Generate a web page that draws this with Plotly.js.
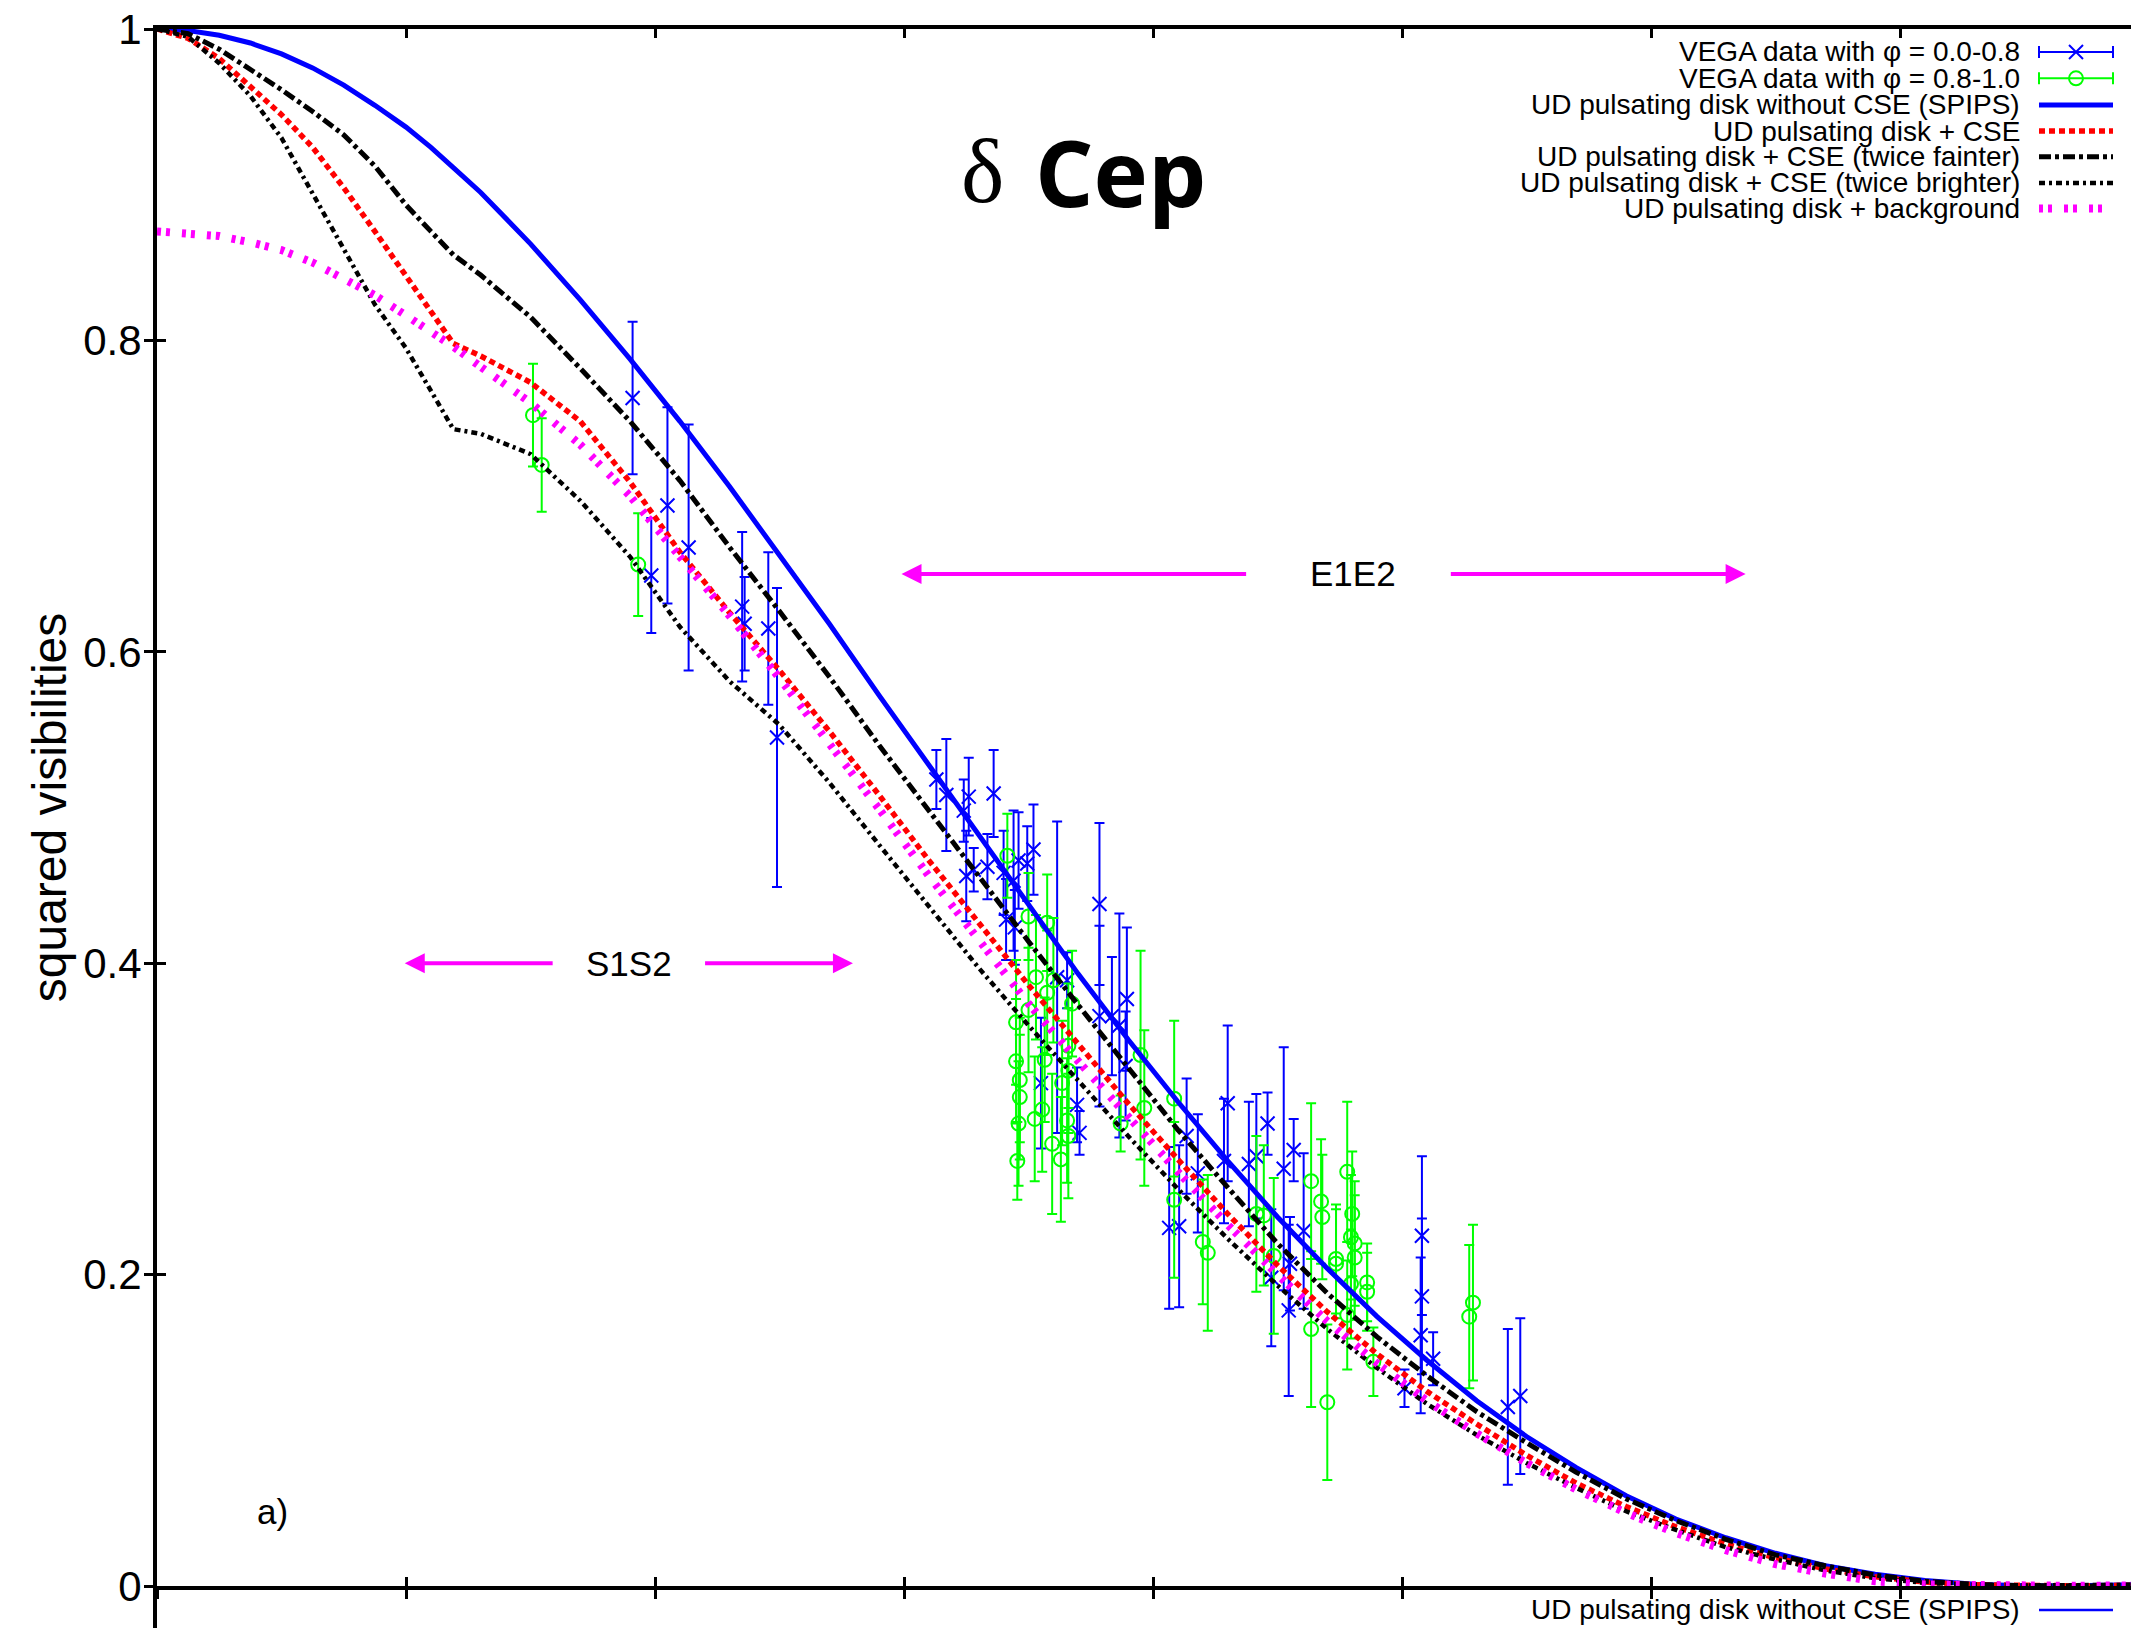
<!DOCTYPE html>
<html><head><meta charset="utf-8">
<script src="https://cdn.plot.ly/plotly-3.0.1.min.js"></script>
<style>html,body{margin:0;padding:0;background:#fff;}#chart{width:2131px;height:1628px;}</style>
</head><body><div id="chart"></div>
<script>
// ---------------- data ----------------
const modelX = [0, 2.5, 5, 7.5, 10, 12.5, 15, 17.5, 20, 22, 23.8, 26, 30, 34, 38, 42, 46, 50, 54, 58, 62, 66, 70, 74, 78, 82, 86, 90, 94, 98, 102, 106, 110, 114, 118, 122, 126, 130, 134, 138, 142, 146, 150, 154, 158.6];
const udNoCSE = [1.000, 0.999, 0.996, 0.991, 0.984, 0.975, 0.964, 0.951, 0.937, 0.924, 0.911, 0.895, 0.862, 0.826, 0.788, 0.748, 0.706, 0.662, 0.618, 0.572, 0.527, 0.482, 0.437, 0.393, 0.351, 0.311, 0.273, 0.237, 0.204, 0.173, 0.145, 0.119, 0.096, 0.076, 0.058, 0.043, 0.031, 0.021, 0.013, 0.0075, 0.0035, 0.0012, 0.0002, 0.0001, 0.0008];
const udCSE = [1.000, 0.994, 0.981, 0.963, 0.945, 0.924, 0.898, 0.870, 0.841, 0.819, 0.798, 0.790, 0.773, 0.748, 0.709, 0.664, 0.625, 0.588, 0.549, 0.508, 0.466, 0.426, 0.386, 0.348, 0.310, 0.274, 0.239, 0.206, 0.176, 0.149, 0.125, 0.104, 0.084, 0.066, 0.051, 0.038, 0.027, 0.018, 0.011, 0.006, 0.0025, 0.0008, 0.0002, 0.0001, 0.0005];
const udCSEFainter = [1.000, 0.997, 0.987, 0.974, 0.961, 0.947, 0.932, 0.912, 0.887, 0.870, 0.855, 0.842, 0.815, 0.782, 0.748, 0.710, 0.667, 0.626, 0.584, 0.540, 0.498, 0.455, 0.414, 0.373, 0.333, 0.293, 0.256, 0.220, 0.188, 0.160, 0.135, 0.112, 0.092, 0.073, 0.056, 0.042, 0.030, 0.020, 0.013, 0.007, 0.003, 0.001, 0.0002, 0.0001, 0.0006];
const udCSEBrighter = [1.000, 0.995, 0.978, 0.957, 0.930, 0.894, 0.859, 0.823, 0.795, 0.767, 0.743, 0.740, 0.727, 0.697, 0.661, 0.616, 0.581, 0.553, 0.516, 0.476, 0.436, 0.397, 0.360, 0.324, 0.289, 0.255, 0.223, 0.193, 0.165, 0.140, 0.117, 0.097, 0.079, 0.063, 0.048, 0.036, 0.025, 0.017, 0.010, 0.005, 0.002, 0.0007, 0.0002, 0.0001, 0.0004];
const udBackground = [0.870, 0.869, 0.867, 0.863, 0.858, 0.850, 0.840, 0.829, 0.816, 0.806, 0.796, 0.783, 0.760, 0.733, 0.700, 0.661, 0.623, 0.583, 0.542, 0.499, 0.456, 0.414, 0.374, 0.337, 0.301, 0.266, 0.232, 0.200, 0.170, 0.143, 0.119, 0.098, 0.079, 0.062, 0.047, 0.034, 0.023, 0.014, 0.008, 0.003, 0.001, 0.0003, 0.0001, 0.0001, 0.0004];

// VEGA data, phase 0.0-0.8
const vegaAx = [38.2, 39.7, 41.0, 42.7, 47.0, 47.2, 49.1, 49.8,
  62.6, 63.4, 64.8, 65.2, 67.2, 65.0, 65.6, 66.7, 68.0, 68.8, 69.2, 69.9, 70.4, 68.2, 68.9, 75.7, 75.7, 76.7, 77.3, 77.9, 77.8, 73.9, 74.1, 72.3, 73.1, 71.0,
  81.3, 82.1, 82.7, 83.6, 86.0, 85.7, 87.7, 88.3, 89.2, 90.5, 91.3, 89.5, 90.9, 92.1, 91.0, 100.2,
  101.6, 101.6, 101.5, 102.5, 108.5, 109.5];
const vegaAy = [0.763, 0.649, 0.694, 0.667, 0.629, 0.618, 0.615, 0.545,
  0.518, 0.508, 0.498, 0.507, 0.509, 0.456, 0.460, 0.462, 0.458, 0.453, 0.466, 0.464, 0.473, 0.428, 0.423, 0.438, 0.366, 0.366, 0.360, 0.377, 0.334, 0.309, 0.291, 0.391, 0.389, 0.323,
  0.230, 0.231, 0.289, 0.265, 0.310, 0.273, 0.271, 0.276, 0.297, 0.268, 0.280, 0.198, 0.177, 0.228, 0.207, 0.127,
  0.225, 0.186, 0.161, 0.146, 0.115, 0.122];
const vegaAerr = [0.049, 0.037, 0.063, 0.079, 0.048, 0.030, 0.049, 0.096,
  0.019, 0.036, 0.020, 0.025, 0.028, 0.029, 0.014, 0.021, 0.027, 0.045, 0.031, 0.024, 0.029, 0.026, 0.024, 0.052, 0.058, 0.038, 0.072, 0.046, 0.035, 0.024, 0.014, 0.100, 0.018, 0.042,
  0.052, 0.052, 0.037, 0.038, 0.050, 0.040, 0.040, 0.040, 0.020, 0.078, 0.020, 0.044, 0.055, 0.050, 0.030, 0.012,
  0.051, 0.050, 0.050, 0.017, 0.050, 0.050];

// VEGA data, phase 0.8-1.0
const vegaBx = [30.2, 30.9, 38.65,
  68.3, 70.0, 71.5, 69.0, 69.0, 69.3, 69.3, 69.2, 69.1, 70.0, 70.6, 70.5, 71.1, 71.3, 71.5, 72.0, 71.9, 72.6, 72.7, 73.1, 73.2, 73.2, 73.5, 73.2, 77.4, 79.0, 79.3,
  81.7, 81.7, 84.0, 84.4, 88.3, 88.9, 89.7, 92.7, 92.7, 93.5, 93.6, 94.0, 94.7, 94.7, 95.6, 96.0, 95.9, 96.2, 96.2, 95.9, 95.6, 97.2, 97.2, 97.7,
  105.4, 105.7];
const vegaBy = [0.752, 0.720, 0.656,
  0.469, 0.430, 0.426, 0.362, 0.337, 0.325, 0.314, 0.297, 0.273, 0.370, 0.391, 0.300, 0.306, 0.338, 0.381, 0.389, 0.284, 0.274, 0.323, 0.299, 0.289, 0.331, 0.374, 0.347, 0.297, 0.341, 0.307,
  0.313, 0.248, 0.221, 0.214, 0.239, 0.238, 0.212, 0.260, 0.165, 0.247, 0.237, 0.118, 0.210, 0.207, 0.266, 0.239, 0.224, 0.220, 0.211, 0.194, 0.174, 0.195, 0.189, 0.144,
  0.173, 0.182];
const vegaBerr = [0.033, 0.030, 0.033,
  0.027, 0.028, 0.031, 0.040, 0.040, 0.040, 0.040, 0.040, 0.025, 0.040, 0.040, 0.040, 0.040, 0.040, 0.040, 0.040, 0.045, 0.040, 0.040, 0.040, 0.040, 0.040, 0.034, 0.040, 0.018, 0.067, 0.050,
  0.050, 0.050, 0.040, 0.050, 0.050, 0.045, 0.050, 0.050, 0.050, 0.040, 0.040, 0.050, 0.035, 0.035, 0.045, 0.040, 0.040, 0.040, 0.040, 0.035, 0.035, 0.025, 0.025, 0.022,
  0.046, 0.050];

const legendLabels = [
  'VEGA data with \u03c6 = 0.0-0.8',
  'VEGA data with \u03c6 = 0.8-1.0',
  'UD pulsating disk without CSE (SPIPS)',
  'UD pulsating disk + CSE',
  'UD pulsating disk + CSE (twice fainter)',
  'UD pulsating disk + CSE (twice brighter)',
  'UD pulsating disk + background'
];
const bottomLegendLabel = 'UD pulsating disk without CSE (SPIPS)';
const yTickVals = [0, 0.2, 0.4, 0.6, 0.8, 1];
const yTickText = ['0', '0.2', '0.4', '0.6', '0.8', '1'];

// ---------------- geometry / styles ----------------
const W = 2131, H = 1628, ML = 157, MT = 29, MB = 42;
const PW = W - ML, PH = H - MT - MB;
const XMAX = PW / 249 * 20;
const px = v => (v - ML) / PW;
const py = v => (H - MB - v) / PH;
const FONT = 'Liberation Sans, Arial, sans-serif';
const BLUE = '#0000ff', GREEN = '#00ff00', RED = '#ff0000', MAG = '#ff00ff';

const styles = {
  noCSE: {color: BLUE, width: 5, dash: 'solid'},
  cse: {color: RED, width: 5.5, dash: '6px,4px'},
  fainter: {color: '#000', width: 5, dash: '12px,4px,4px,4px'},
  brighter: {color: '#000', width: 4.5, dash: '6px,4px,3px,4px'},
  background: {color: MAG, width: 8, dash: '4px,5px,4px,12px'}
};

const traces = [
  {x: vegaAx, y: vegaAy, type: 'scatter', mode: 'markers', xaxis: 'x', yaxis: 'y',
   error_y: {type: 'data', array: vegaAerr, visible: true, color: BLUE, thickness: 2, width: 5},
   marker: {symbol: 'x-thin-open', size: 14, color: BLUE, line: {width: 2, color: BLUE}}},
  {x: vegaBx, y: vegaBy, type: 'scatter', mode: 'markers',
   error_y: {type: 'data', array: vegaBerr, visible: true, color: GREEN, thickness: 2, width: 5},
   marker: {symbol: 'circle-open', size: 14, color: GREEN, line: {width: 2, color: GREEN}}},
  {x: modelX, y: udNoCSE, type: 'scatter', mode: 'lines', line: styles.noCSE},
  {x: modelX, y: udCSE, type: 'scatter', mode: 'lines', line: styles.cse},
  {x: modelX, y: udCSEFainter, type: 'scatter', mode: 'lines', line: styles.fainter},
  {x: modelX, y: udCSEBrighter, type: 'scatter', mode: 'lines', line: styles.brighter},
  {x: modelX, y: udBackground, type: 'scatter', mode: 'lines', line: styles.background},
  // empty traces that make the overlay tick axes exist
  {x: [], y: [], type: 'scatter', mode: 'markers', xaxis: 'x2', yaxis: 'y2', hoverinfo: 'skip'},
  {x: [], y: [], type: 'scatter', mode: 'markers', xaxis: 'x3', yaxis: 'y', hoverinfo: 'skip'}
];

const baseAx = {showgrid: false, zeroline: false, linecolor: '#000', tickcolor: '#000', ticklen: 9, tickwidth: 3};

// ---------------- custom legend (symbol to the right of the text) ----------------
const rowY = [52, 78.3, 105, 131, 156.7, 183, 208.5];
const rowStyles = [null, null, styles.noCSE, styles.cse, styles.fainter, styles.brighter, styles.background];
const sx0 = 2039, sx1 = 2113, sxc = 2076;
const shapes = [];
const annotations = [];
legendLabels.forEach((lab, i) => {
  annotations.push({text: lab, xref: 'paper', yref: 'paper', x: px(2022), y: py(rowY[i]),
    xanchor: 'right', yanchor: 'middle', showarrow: false, font: {family: FONT, size: 28, color: '#000'}});
  if (rowStyles[i]) {
    shapes.push({type: 'line', xref: 'paper', yref: 'paper', x0: px(sx0), x1: px(sx1), y0: py(rowY[i]), y1: py(rowY[i]),
      line: {color: rowStyles[i].color, width: rowStyles[i].width, dash: rowStyles[i].dash}});
  } else {
    const c = i === 0 ? BLUE : GREEN;
    const yy = py(rowY[i]);
    shapes.push({type: 'line', xref: 'paper', yref: 'paper', x0: px(sx0), x1: px(sx1), y0: yy, y1: yy, line: {color: c, width: 2}});
    [sx0, sx1].forEach(xx => shapes.push({type: 'line', xref: 'paper', yref: 'paper', ysizemode: 'pixel', yanchor: yy,
      x0: px(xx), x1: px(xx), y0: -6, y1: 6, line: {color: c, width: 2}}));
    if (i === 0) {
      shapes.push({type: 'line', xref: 'paper', yref: 'paper', xsizemode: 'pixel', ysizemode: 'pixel', xanchor: px(sxc), yanchor: yy,
        x0: -7, x1: 7, y0: -7, y1: 7, line: {color: c, width: 2}});
      shapes.push({type: 'line', xref: 'paper', yref: 'paper', xsizemode: 'pixel', ysizemode: 'pixel', xanchor: px(sxc), yanchor: yy,
        x0: -7, x1: 7, y0: 7, y1: -7, line: {color: c, width: 2}});
    } else {
      shapes.push({type: 'circle', xref: 'paper', yref: 'paper', xsizemode: 'pixel', ysizemode: 'pixel', xanchor: px(sxc), yanchor: yy,
        x0: -7, x1: 7, y0: -7, y1: 7, line: {color: c, width: 2}, fillcolor: 'rgba(0,0,0,0)'});
    }
  }
});
// bottom legend entry (belongs to the panel below)
annotations.push({text: bottomLegendLabel, xref: 'paper', yref: 'paper', x: px(2022), y: py(1610),
  xanchor: 'right', yanchor: 'middle', showarrow: false, font: {family: FONT, size: 28, color: '#000'}});
shapes.push({type: 'line', xref: 'paper', yref: 'paper', x0: px(sx0), x1: px(sx1), y0: py(1610), y1: py(1610),
  line: {color: BLUE, width: 2.5}});
// y axis continues into the lower panel
shapes.push({type: 'line', xref: 'paper', yref: 'paper', xsizemode: 'pixel', xanchor: 0, x0: -2, x1: -2,
  y0: 0, y1: py(1640), line: {color: '#000', width: 4}});

// title and labels
annotations.push({text: '\u03b4', xref: 'paper', yref: 'paper', x: px(982), y: py(171), xanchor: 'center', yanchor: 'middle',
  showarrow: false, font: {family: 'Liberation Serif, serif', size: 92, color: '#000'}});
annotations.push({text: '<b>Cep</b>', xref: 'paper', yref: 'paper', x: px(1033), y: py(171), xanchor: 'left', yanchor: 'middle',
  showarrow: false, font: {family: 'Open Sans, sans-serif', size: 92, color: '#000'}});
annotations.push({text: 'a)', xref: 'x', yref: 'y', x: 9.3, y: 0.048, showarrow: false, font: {family: FONT, size: 35, color: '#000'}});
annotations.push({text: 'S1S2', xref: 'x', yref: 'y', x: 37.9, y: 0.400, showarrow: false, font: {family: FONT, size: 35, color: '#000'}});
annotations.push({text: 'E1E2', xref: 'x', yref: 'y', x: 96.1, y: 0.650, showarrow: false, font: {family: FONT, size: 35, color: '#000'}});
const arrow = (hx, tx, yv) => ({text: '', xref: 'x', yref: 'y', axref: 'x', ayref: 'y', x: hx, y: yv, ax: tx, ay: yv,
  showarrow: true, arrowhead: 2, arrowsize: 1, arrowwidth: 4, arrowcolor: MAG});
annotations.push(arrow(19.9, 31.9, 0.400), arrow(55.9, 43.9, 0.400), arrow(59.8, 87.6, 0.650), arrow(127.6, 103.8, 0.650));

const layout = {
  width: W, height: H,
  margin: {l: ML, r: 0, t: MT, b: MB, pad: 0},
  paper_bgcolor: '#fff', plot_bgcolor: '#fff',
  showlegend: false,
  font: {family: FONT, color: '#000'},
  xaxis: Object.assign({}, baseAx, {range: [0, XMAX], tick0: 0, dtick: 20, ticks: 'outside', showline: true, linewidth: 4,
    showticklabels: false, anchor: 'y'}),
  xaxis2: Object.assign({}, baseAx, {range: [0, XMAX], tick0: 0, dtick: 20, ticks: 'inside', showline: false,
    showticklabels: false, overlaying: 'x', anchor: 'y2', side: 'bottom'}),
  xaxis3: Object.assign({}, baseAx, {range: [0, XMAX], tick0: 0, dtick: 20, ticks: 'inside', showline: true, linewidth: 4,
    showticklabels: false, overlaying: 'x', anchor: 'y', side: 'top'}),
  yaxis: Object.assign({}, baseAx, {range: [0, 1], tickvals: yTickVals, ticktext: yTickText,
    ticks: 'outside', showline: true, linewidth: 4, anchor: 'x', ticklabelstandoff: -6,
    tickfont: {family: FONT, size: 42, color: '#000'},
    title: {text: 'squared visibilities', font: {family: FONT, size: 48, color: '#000'}, standoff: 2}}),
  yaxis2: Object.assign({}, baseAx, {range: [0, 1], tickvals: yTickVals, ticks: 'inside', showline: false,
    showticklabels: false, overlaying: 'y', anchor: 'x', side: 'left'}),
  shapes: shapes,
  annotations: annotations
};

Plotly.newPlot('chart', traces, layout, {displayModeBar: false, staticPlot: true});
</script>
</body></html>
